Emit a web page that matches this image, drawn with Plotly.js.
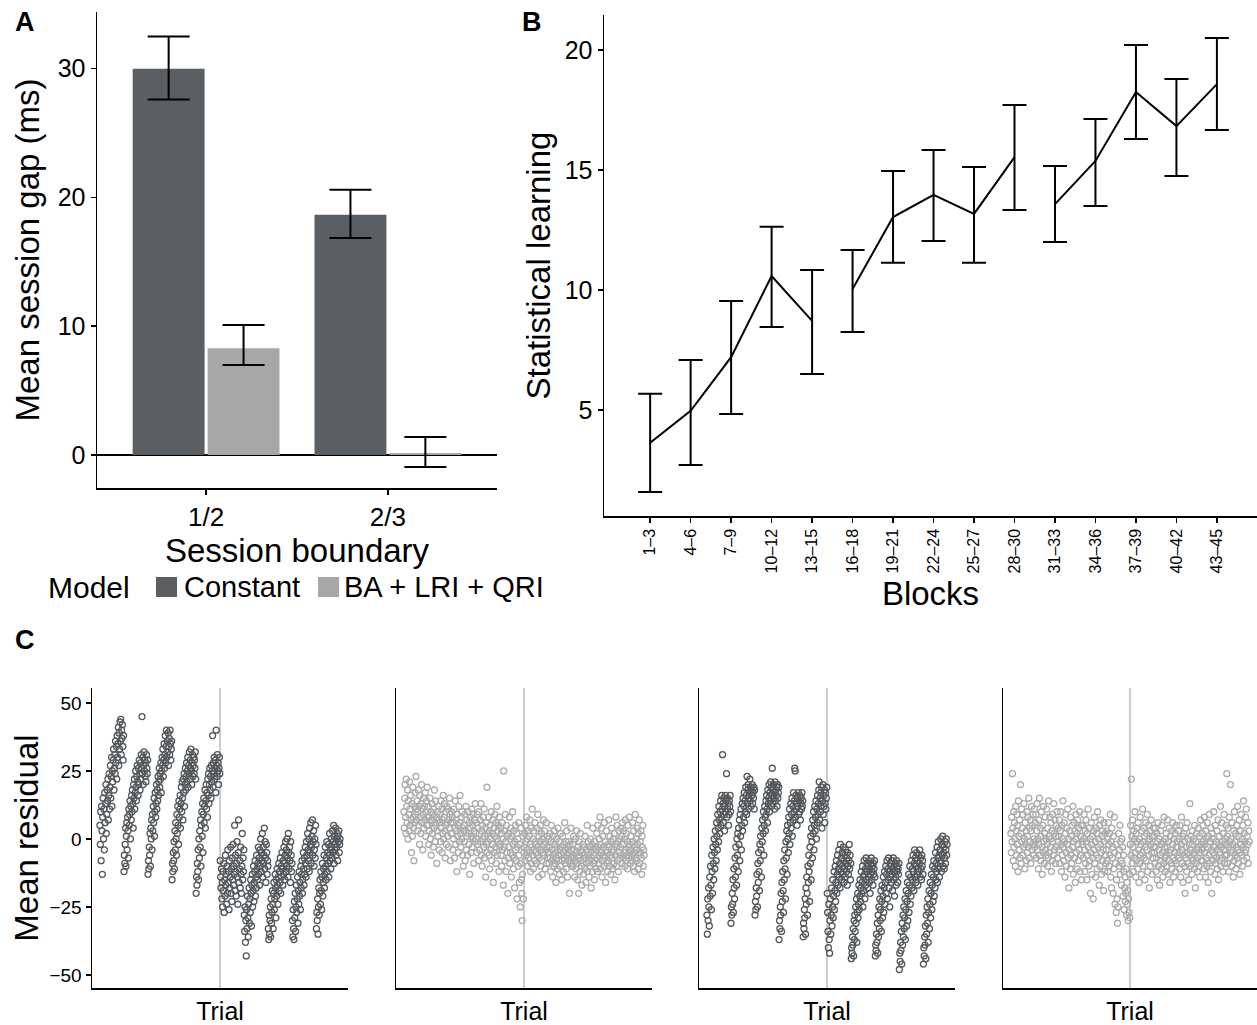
<!DOCTYPE html>
<html><head><meta charset="utf-8">
<script src="https://cdn.plot.ly/plotly-3.0.1.min.js"></script>
<style>html,body{margin:0;padding:0;background:#fff}</style>
</head><body><div id="chart" style="width:1257px;height:1025px"></div>
<script>
// ---------- Panel A data ----------
const boundaries = ['1/2', '2/3'];
const models = ['Constant', 'BA + LRI + QRI'];
const gapConstant = [30.0, 18.65];
const gapConstantHi = [32.5, 20.6];
const gapConstantLo = [27.6, 16.86];
const gapFull = [8.3, 0.15];
const gapFullHi = [10.1, 1.4];
const gapFullLo = [7.0, -0.93];

// ---------- Panel B data ----------
const blocks = ['1–3','4–6','7–9','10–12','13–15','16–18','19–21','22–24','25–27','28–30','31–33','34–36','37–39','40–42','43–45'];
const blockSession = [1,1,1,1,1,2,2,2,2,2,3,3,3,3,3];
const learning   = [3.63, 4.96, 7.2, 10.58, 8.71, 10.04, 13.04, 13.96, 13.17, 15.54, 13.58, 15.38, 18.25, 16.83, 18.58];
const learningHi = [5.67, 7.08, 9.54, 12.63, 10.83, 11.67, 14.96, 15.83, 15.13, 17.71, 15.17, 17.13, 20.21, 18.79, 20.5];
const learningLo = [1.58, 2.71, 4.83, 8.46, 6.5, 8.25, 11.13, 12.04, 11.13, 13.33, 12.0, 13.5, 16.29, 14.75, 16.67];

// ---------- Panel C data (mean residual per trial) ----------
const residConstA_pre = [
 5,-2,10,-8,12,3,-13,8,15,0,11,-4,17,6,13,20,2,9,18,14,22,7,16,24,11,19,27,15,23,30,12,25,21,29,33,18,26,31,24,36,28,34,22,38,30,35,41,27,39,33,43,36,44,31,40,37,42,34,29,38,
 -12,-6,-9,-2,4,-10,1,6,-4,8,3,-7,11,5,9,14,0,12,7,16,10,18,13,4,20,15,22,11,17,25,19,14,23,27,21,16,26,20,29,24,18,28,22,31,26,45,24,30,20,27,32,25,29,23,28,21,31,26,24,29,
 -13,-8,-11,-3,-6,2,-10,4,0,7,-4,9,3,12,6,15,1,10,17,8,13,20,11,18,14,23,16,21,26,19,24,22,28,17,25,30,27,33,23,29,35,26,31,38,28,34,40,30,36,32,39,27,34,37,31,40,35,29,33,36,
 -15,-9,-12,-5,-8,-1,-11,3,-4,6,0,-6,9,2,12,5,-2,14,8,11,16,4,13,19,10,21,15,7,22,17,24,12,20,26,18,23,28,21,25,30,19,27,24,32,22,29,26,33,25,20,28,31,23,27,30,24,29,26,32,22,
 -20,-14,-17,-9,-12,-4,-15,0,-7,3,-3,7,-10,5,10,1,13,-5,9,15,6,12,18,4,14,20,11,17,8,22,16,24,13,20,26,18,23,15,27,21,25,38,19,28,24,30,22,26,29,17,40,27,23,31,25,28,20,26,30,24];
const residConstA_post = [
 -8,-14,-18,-11,-22,-16,-25,-12,-19,-9,-27,-15,-21,-6,-17,-13,-24,-10,-20,-4,-16,-12,-26,-8,-18,-14,-3,-20,-11,-23,-7,-15,-2,-17,-10,-13,5,-19,-6,-12,-21,-9,-1,-14,-24,-5,7,-16,-11,-8,-18,-3,-13,-20,-10,2,-15,-7,-12,-4,
 -28,-34,-25,-38,-30,-43,-26,-33,-21,-29,-36,-24,-18,-31,-22,-27,-15,-20,-32,-17,-13,-25,-19,-10,-23,-16,-12,-8,-21,-14,-18,-6,-11,-15,-9,-3,-13,-7,-17,-4,-10,0,-12,-5,-8,2,-14,-3,-9,-6,4,-11,-1,-7,-16,-2,-5,-13,-8,-10,
 -33,-37,-28,-35,-30,-25,-36,-22,-31,-27,-19,-24,-33,-20,-16,-26,-22,-13,-18,-29,-15,-21,-11,-17,-24,-14,-9,-19,-12,-16,-7,-20,-10,-14,-5,-11,-17,-8,-13,-3,-9,-15,-6,-1,-12,-4,-10,0,-7,-14,2,-5,-11,-3,-8,-16,-1,-6,-12,-9,
 -30,-36,-26,-33,-37,-23,-29,-20,-34,-25,-17,-27,-22,-14,-31,-19,-24,-12,-21,-16,-26,-10,-18,-13,-8,-20,-15,-5,-11,-17,-7,-13,-3,-9,-14,-1,-6,-11,2,-4,-8,0,-12,4,-5,-2,6,-9,-3,1,7,-6,-1,3,-10,-4,0,-7,5,-2,
 -33,-27,-30,-22,-35,-25,-18,-28,-20,-15,-24,-12,-19,-26,-14,-9,-21,-16,-11,-6,-18,-13,-3,-10,-15,-7,-1,-12,-5,-9,-2,-14,-6,2,-8,-4,-11,0,-3,-7,3,-5,-1,5,-9,1,-4,-2,4,-6,0,-3,2,-8,1,-1,3,-5,-2,0];

const residFullA_pre = [
 10,4,15,20,8,2,22,12,6,18,0,14,9,3,21,11,5,16,7,-5,13,1,19,8,4,-8,12,6,17,9,23,11,7,14,3,10,18,5,12,-2,16,8,2,13,20,6,11,-4,9,15,4,12,7,17,1,10,14,5,19,8,
 5,12,-2,8,3,15,0,10,-6,7,13,2,9,-3,11,4,18,6,-1,14,5,8,-9,3,10,1,7,12,-4,6,9,-1,14,4,11,-5,7,2,16,0,8,13,3,-7,10,5,-2,12,6,1,11,-3,7,4,15,9,-8,6,2,10,
 2,8,-4,6,0,11,-7,4,14,-2,7,3,-12,9,1,5,-5,12,-1,6,16,2,-3,8,0,10,-6,4,-10,3,5,-1,9,-8,3,12,-4,7,1,-6,10,2,-2,6,-13,4,8,-5,1,11,-3,5,0,9,-9,3,7,-1,13,2,
 0,6,-5,9,-2,4,-8,10,2,-4,7,-1,13,-6,3,-10,5,0,8,-3,11,-7,1,4,-14,6,-2,19,-5,2,-1,8,-6,3,-11,5,0,-4,10,-8,2,-2,7,-16,4,-5,1,9,-3,6,-9,0,12,-6,3,-1,5,-12,8,-3,
 -2,4,-6,2,-10,6,-4,0,-17,25,-3,3,-8,9,-1,-12,5,-5,1,-20,-7,2,-3,8,-9,0,-5,4,-14,1,-6,10,-2,-11,3,-7,-18,-1,5,-4,-8,2,-22,-3,0,-10,6,-6,-16,-2,-25,-9,4,-15,-20,-30,-13,1,-22,-5];
const residFullA_post = [
 -3,2,-8,5,-1,-6,8,-4,0,-10,3,-7,1,-5,7,-2,-12,4,-9,-3,11,-6,0,-11,3,-4,-8,6,-1,-5,-2,-9,4,-6,9,-3,-14,1,-7,-1,5,-10,-4,2,-8,-13,0,-5,7,-2,-6,3,-11,-1,-4,6,-9,-3,1,-7,
 -5,0,-9,-3,2,-7,-12,-1,5,-8,-4,-14,1,-6,-10,3,-2,-9,-5,-16,0,-7,-3,-11,4,-6,-8,-1,-13,-4,-10,2,-6,-3,-15,-8,1,-5,-12,-2,-7,6,-4,-9,-1,-11,3,-6,-14,-3,-8,-1,-5,-20,-2,-9,4,-7,-4,-10,
 -6,-2,-10,1,-7,-4,-14,-8,0,-11,-5,3,-9,-15,-3,-7,-20,-1,-6,-12,2,-8,-4,-10,-17,-5,-2,-9,-13,-6,-3,-11,1,-7,-16,-4,-9,5,-12,-6,-1,-8,-14,-3,-10,0,-5,-18,-7,-2,-12,4,-9,-4,-6,-15,-1,-8,-3,-11,
 -4,2,-7,-12,5,-3,-9,0,-6,8,-11,-2,-5,4,-14,-8,1,-6,-3,-10,6,-7,-1,-16,-4,3,-9,-5,-12,-2,-8,7,-3,-10,1,-6,-13,-1,4,-7,-5,-11,0,-4,-9,2,-15,-6,-2,8,-10,-3,5,-8,-1,-12,3,-5,-7,0,
 -3,4,-6,1,-9,6,-2,-7,3,-5,0,-10,7,-4,-8,2,-6,-1,-11,5,-3,-7,8,-5,-2,-9,1,-4,-6,-8,6,-1,-10,3,-5,-12,-3,9,-7,0,-4,-8,4,-2,-11,2,-6,7,-9,-1,-5,3,-7,-13,1,-3,5,-10,-4,-6];

const residConstB_pre = [
 -28,-35,-22,-30,-18,-25,-32,-14,-21,-10,-17,-26,-6,-12,-20,-3,-9,-15,0,-5,-11,3,-2,-8,6,1,-4,9,4,-1,12,7,2,10,14,5,8,16,11,31,13,6,15,9,3,12,16,10,14,24,8,15,11,13,5,9,14,12,16,10,
 -31,-25,-28,-20,-24,-15,-27,-11,-18,-22,-7,-14,-3,-10,-17,0,-6,2,-12,4,-2,7,-8,9,1,11,-4,5,13,3,15,8,12,17,6,14,10,19,16,9,23,13,18,20,11,15,17,22,14,19,12,18,16,20,13,17,15,19,11,18,
 -28,-23,-26,-18,-21,-13,-25,-9,-16,-5,-12,-19,-2,-8,1,-4,-14,4,-1,7,2,10,-6,5,12,8,3,14,9,16,11,6,18,13,15,20,10,17,14,21,19,12,16,26,18,13,20,15,17,11,21,14,18,16,19,12,20,15,17,19,
 -37,-30,-33,-25,-28,-20,-34,-16,-23,-12,-19,-27,-8,-15,-4,-11,-22,-1,-7,3,-13,5,0,-5,8,2,11,-2,6,13,4,9,15,1,12,7,17,10,14,26,25,8,16,11,13,5,15,12,17,9,14,10,16,7,13,15,11,17,12,14,
 -36,-31,-33,-26,-29,-22,-35,-18,-24,-14,-20,-28,-10,-16,-6,-12,-23,-3,-9,1,-15,4,-1,-7,7,2,10,-4,5,12,3,8,14,0,11,6,16,9,13,18,21,7,15,10,17,12,19,4,14,20,9,16,12,18,6,13,17,11,15,19];
const residConstB_post = [
 -20,-27,-34,-40,-24,-37,-42,-30,-22,-35,-28,-18,-32,-25,-15,-29,-21,-12,-26,-19,-10,-23,-16,-8,-20,-13,-6,-17,-11,-4,-14,-9,-18,-2,-12,-7,-15,-5,-10,-13,-3,-8,-16,-11,-6,-14,-4,-9,-12,-7,-17,-5,-10,-13,-8,-2,-11,-6,-15,-9,
 -44,-40,-42,-36,-39,-33,-43,-30,-37,-28,-34,-25,-31,-22,-38,-27,-20,-29,-24,-17,-26,-21,-15,-23,-18,-12,-20,-16,-10,-25,-14,-19,-8,-13,-22,-11,-17,-7,-15,-9,-12,-18,-10,-14,-8,-16,-11,-20,-13,-9,-7,-15,-12,-10,-17,-9,-13,-11,-8,-14,
 -43,-39,-41,-35,-38,-31,-42,-28,-36,-25,-33,-22,-30,-26,-19,-34,-23,-17,-29,-21,-14,-27,-18,-12,-24,-16,-10,-20,-13,-8,-22,-11,-15,-7,-18,-12,-25,-9,-14,-10,-16,-8,-13,-19,-11,-7,-15,-10,-21,-12,-9,-14,-17,-8,-12,-10,-16,-11,-13,-9,
 -48,-42,-45,-38,-41,-34,-46,-31,-39,-28,-36,-25,-33,-29,-22,-37,-26,-19,-32,-23,-16,-30,-20,-13,-27,-17,-10,-24,-14,-21,-8,-18,-11,-15,-6,-12,-19,-9,-4,-14,-7,-16,-10,-5,-13,-8,-17,-11,-6,-12,-9,-4,-14,-7,-11,-15,-6,-10,-8,-13,
 -46,-40,-43,-36,-39,-32,-44,-28,-35,-25,-31,-22,-38,-27,-19,-33,-24,-16,-29,-20,-13,-26,-17,-10,-23,-14,-8,-21,-11,-18,-5,-15,-9,-12,-3,-16,-7,-1,-11,-6,-14,-4,-9,0,-8,-12,-2,-6,1,-10,-5,-3,-11,-7,-1,-9,-4,0,-6,-2];

const residFullB_pre = [
 2,-5,8,-1,24,4,-8,10,-3,6,0,-10,12,3,-6,9,-2,5,-12,14,1,-4,7,-7,20,2,-9,11,-1,4,-6,9,-3,13,0,-11,6,-2,3,-8,10,-5,1,8,-3,15,-7,4,-1,7,-9,3,12,-4,5,-2,9,-6,0,11,
 -3,6,-1,9,-7,3,13,-4,0,-11,7,-2,15,-6,4,-8,1,10,-3,-13,5,-5,12,-1,-9,2,8,-4,0,-6,11,-2,-10,4,-7,14,1,-5,8,-3,0,6,-12,3,-8,9,-1,-6,13,2,-4,7,-9,1,5,-3,10,-7,-1,4,
 1,-4,7,-9,3,10,-2,-12,5,-6,0,14,-3,-8,6,-1,-14,2,9,-5,-10,4,-2,11,-7,0,-18,-4,3,-11,8,-6,1,-9,5,-3,12,-13,-1,6,-7,3,-16,0,9,-5,2,-11,7,-2,-8,4,-4,10,-12,1,-6,5,-15,-1,
 -2,5,-7,0,9,-4,-12,3,-9,7,-1,-15,2,-6,11,-3,-10,4,-8,0,-20,-5,6,-2,-13,1,-7,-22,3,-4,8,-9,-1,-14,4,-6,2,-11,10,-3,-7,0,-17,5,-10,-2,7,-5,-13,1,-8,3,-4,-19,6,-1,-12,2,-6,-9,
 -4,3,-8,0,-12,6,-2,-10,2,-6,9,-14,-1,-18,4,-7,-3,-20,1,-11,8,-5,-24,-9,-2,-27,-15,-22,-31,-25,-6,2,-10,-4,5,-13,-1,-8,-17,0,-9,-3,-21,-6,-12,-26,-18,-14,-23,-20,-11,-28,-16,-24,-19,-30,-22,-27,-13,-29];
const residFullB_post = [
 -2,5,-6,22,1,-9,7,-3,-12,3,-7,0,10,-5,-14,2,-8,4,-1,-11,6,-4,-16,0,-9,8,-6,-2,-13,3,-5,11,-10,-1,4,-7,1,-15,-3,6,-8,2,-4,9,-12,-1,5,-6,-18,0,3,-10,-2,7,-5,-13,1,-7,4,-3,
 -5,1,-9,4,-3,-12,-7,2,-15,-1,6,-10,-4,0,-17,-6,3,-8,-2,-11,5,-5,-14,-1,-9,8,-3,-7,-12,0,-6,2,-10,-3,7,-13,-1,-8,4,-5,-16,1,-4,-9,3,-11,-2,6,-7,-14,0,-5,-8,2,-12,-3,5,-9,-1,-6,
 -3,3,-7,0,-11,5,-5,-14,-2,8,-9,-4,1,-16,-6,2,-10,-1,-20,4,-7,-3,-12,6,-5,0,-9,-15,-2,-6,13,-4,-10,1,-7,-13,3,-2,-8,-5,0,-11,5,-6,-18,-1,-9,2,-4,-12,-7,4,-3,-10,1,-14,-5,7,-8,-2,
 -4,2,-8,5,-1,-11,8,-5,-2,-14,3,-7,0,-10,6,-3,-16,1,-6,9,-9,-1,-12,4,-4,-20,2,-8,-5,0,10,-6,-3,-13,5,-9,-1,-7,3,-11,-4,7,-15,-2,1,-8,-5,12,-10,-3,6,-7,-1,-12,2,-4,9,-9,-6,0,
 -2,5,-6,24,1,-9,4,-3,-12,8,-1,-7,20,-4,0,-10,6,-5,-2,-14,3,-8,10,-1,-6,2,-11,-3,5,-7,12,-4,-9,1,7,-5,-13,3,-2,9,-6,0,-10,5,-3,14,-8,2,-1,-5,8,-4,11,-7,1,-2,6,-9,3,-1];

const panelTicks = [-50, -25, 0, 25, 50];

// ---------- styling ----------
const FONT = 'Liberation Sans, Arial, Helvetica, sans-serif';
const DARK = '#5a5f63', LIGHT = '#a7a7a7';
const DOT_DARK = '#52575b', DOT_LIGHT = '#ababab';
const W = 1257, H = 1025;
const px = v => v / W;
const py = v => 1 - v / H;

const traces = [];

// Panel A bars
[[gapConstant, gapConstantHi, gapConstantLo, DARK, models[0]],
 [gapFull, gapFullHi, gapFullLo, LIGHT, models[1]]].forEach(([v, hi, lo, col, nm]) => {
  traces.push({
    type: 'bar', x: boundaries, y: v, name: nm, showlegend: false,
    marker: {color: col, line: {width: 0}},
    error_y: {type: 'data', symmetric: false,
      array: hi.map((h, i) => h - v[i]), arrayminus: v.map((m, i) => m - lo[i]),
      color: '#000', thickness: 2, width: 21},
    xaxis: 'x', yaxis: 'y', hoverinfo: 'skip'
  });
});

// Panel B lines per session
[1, 2, 3].forEach(s => {
  const idx = blockSession.map((b, i) => b === s ? i : -1).filter(i => i >= 0);
  traces.push({
    type: 'scatter', mode: 'lines', showlegend: false,
    x: idx.map(i => blocks[i]), y: idx.map(i => learning[i]),
    line: {color: '#000', width: 2},
    error_y: {type: 'data', symmetric: false,
      array: idx.map(i => learningHi[i] - learning[i]),
      arrayminus: idx.map(i => learning[i] - learningLo[i]),
      color: '#000', thickness: 2, width: 12},
    xaxis: 'x2', yaxis: 'y2', hoverinfo: 'skip'
  });
});

// Panel C scatter panels
const cPanels = [
  [residConstA_pre, residConstA_post, DOT_DARK],
  [residFullA_pre, residFullA_post, DOT_LIGHT],
  [residConstB_pre, residConstB_post, DOT_DARK],
  [residFullB_pre, residFullB_post, DOT_LIGHT]
];
const shapes = [];
cPanels.forEach(([pre, post, col], k) => {
  const y = pre.concat(post);
  const x = y.map((_, i) => i + 1);
  const ax = k + 3;
  shapes.push({type: 'line', xref: 'x' + ax, yref: 'y' + ax + ' domain',
    x0: pre.length + 0.5, x1: pre.length + 0.5, y0: 0, y1: 1,
    line: {color: '#bdbdbd', width: 1.5}, layer: 'below'});
  traces.push({
    type: 'scatter', mode: 'markers', showlegend: false, x: x, y: y,
    marker: {symbol: 'circle-open', size: 6, color: col, line: {width: 1.3, color: col}},
    xaxis: 'x' + ax, yaxis: 'y' + ax, hoverinfo: 'skip'
  });
});

const axBase = {showgrid: false, zeroline: false, showline: true, linecolor: '#000', linewidth: 1.5,
  ticks: 'outside', tickcolor: '#000', tickwidth: 1.5, ticklen: 5,
  tickfont: {family: FONT, size: 25, color: '#000'}, fixedrange: true};

const layout = {
  width: W, height: H, margin: {l: 0, r: 0, t: 0, b: 0},
  paper_bgcolor: '#fff', plot_bgcolor: 'rgba(0,0,0,0)',
  font: {family: FONT, color: '#000'},
  barmode: 'group', bargap: 0.176, bargroupgap: 0.04,
  showlegend: false,
  xaxis: Object.assign({}, axBase, {domain: [px(97), px(497)], anchor: 'y',
    type: 'category', range: [-0.6, 1.6], tickfont: {family: FONT, size: 26, color: '#000'},
    title: {text: 'Session boundary', font: {family: FONT, size: 33, color: '#000'}, standoff: 4}}),
  yaxis: Object.assign({}, axBase, {domain: [py(488), py(12)], anchor: 'x',
    range: [-2.56, 34.4], tickvals: [0, 10, 20, 30],
    zeroline: true, zerolinecolor: '#000', zerolinewidth: 1.5,
    title: {text: 'Mean session gap (ms)', font: {family: FONT, size: 33, color: '#000'}, standoff: 8}}),
  xaxis2: Object.assign({}, axBase, {domain: [px(604), 1], anchor: 'y2',
    type: 'category', categoryorder: 'array', categoryarray: blocks, range: [-1.14, 14.99],
    tickangle: -90, tickfont: {family: FONT, size: 16, color: '#000'},
    title: {text: 'Blocks', font: {family: FONT, size: 33, color: '#000'}, standoff: 9}}),
  yaxis2: Object.assign({}, axBase, {domain: [py(516), py(15)], anchor: 'x2',
    range: [0.58, 21.46], tickvals: [5, 10, 15, 20],
    title: {text: 'Statistical learning', font: {family: FONT, size: 33, color: '#000'}, standoff: 4}}),
  shapes: shapes,
  annotations: []
};

const cDomains = [[92, 348], [396, 652], [699, 955], [1003, 1257]];
cDomains.forEach((d, k) => {
  const ax = k + 3;
  const n = cPanels[k][0].length + cPanels[k][1].length;
  layout['xaxis' + ax] = Object.assign({}, axBase, {domain: [px(d[0]), Math.min(1, px(d[1]))],
    anchor: 'y' + ax, range: [1 - 0.033 * (n - 1), n + 0.033 * (n - 1)],
    ticks: '', showticklabels: false,
    title: {text: 'Trial', font: {family: FONT, size: 25, color: '#000'}, standoff: 14}});
  const yax = Object.assign({}, axBase, {domain: [py(988), py(688)], anchor: 'x' + ax,
    range: [-54.8, 55.5]});
  if (k === 0) {
    yax.tickvals = panelTicks;
    yax.tickfont = {family: FONT, size: 19, color: '#000'};
    yax.title = {text: 'Mean residual', font: {family: FONT, size: 33, color: '#000'}, standoff: 1};
  } else {
    yax.ticks = ''; yax.showticklabels = false;
  }
  layout['yaxis' + ax] = yax;
});

// panel letters
[['A', 13, 22], ['B', 520, 22], ['C', 13, 640]].forEach(([t, x, y]) => {
  layout.annotations.push({text: '<b>' + t + '</b>', xref: 'paper', yref: 'paper',
    x: px(x), y: py(y), xanchor: 'left', yanchor: 'middle', showarrow: false,
    font: {family: FONT, size: 27, color: '#000'}});
});

// legend for panel A
const legendY = 587;
layout.annotations.push({text: 'Model', xref: 'paper', yref: 'paper', x: px(46), y: py(legendY),
  xanchor: 'left', yanchor: 'middle', showarrow: false, font: {family: FONT, size: 30, color: '#000'}});
[[models[0], DARK, 156, 182], [models[1], LIGHT, 318, 342]].forEach(([nm, col, sx, tx]) => {
  shapes.push({type: 'rect', xref: 'paper', yref: 'paper', x0: px(sx), x1: px(sx + 21),
    y0: py(legendY + 10), y1: py(legendY - 10), fillcolor: col, line: {width: 0}});
  layout.annotations.push({text: nm, xref: 'paper', yref: 'paper', x: px(tx), y: py(legendY),
    xanchor: 'left', yanchor: 'middle', showarrow: false, font: {family: FONT, size: 29, color: '#000'}});
});

Plotly.newPlot('chart', traces, layout, {displayModeBar: false, staticPlot: true});
</script>
</body></html>
